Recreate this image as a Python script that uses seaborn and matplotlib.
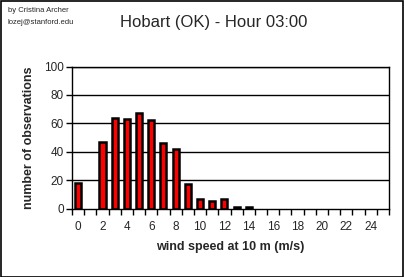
import matplotlib
matplotlib.use("Agg")
import matplotlib.pyplot as plt
import seaborn as sns
import pandas as pd
import numpy as np
from matplotlib.patches import Rectangle

speeds = list(range(26))
counts = [18, 0, 47, 64, 63, 67, 62, 46, 42, 17, 7, 5, 7, 1, 1,
          0, 0, 0, 0, 0, 0, 0, 0, 0, 0, 0]
xtick_labels = [str(s) for s in range(0, 25, 2)]
yticks = [0, 20, 40, 60, 80, 100]

sns.set_theme(style="white")
plt.rcParams['font.family'] = ['Liberation Sans', 'DejaVu Sans']

df = pd.DataFrame({"speed": speeds, "count": counts})

fig = plt.figure(figsize=(4.04, 2.77), dpi=100)
fig.patch.set_facecolor("white")
ax = fig.add_axes([72/404, 1-208.5/277, (389-72)/404, (208.5-66.5)/277])

sns.barplot(data=df, x="speed", y="count", ax=ax, color="#ff0000",
            saturation=1, width=0.5, edgecolor="black", linewidth=1.8,
            order=speeds)
for p in ax.patches:
    if p.get_height() == 0:
        p.set_visible(False)

ax.set_xlim(-0.5, 25.5)
ax.set_ylim(0, 100)
ax.set_yticks(yticks)
ax.set_yticklabels([str(v) for v in yticks], fontsize=8.5)
for v in yticks[1:]:
    ax.axhline(v, color="black", linewidth=1.0, zorder=0.5)

ax.set_xticks(range(0, 25, 2))
ax.set_xticklabels(xtick_labels, fontsize=8.5)
ax.tick_params(axis="x", which="major", length=0, pad=9)
ax.set_xticks(np.arange(-0.5, 26, 1), minor=True)
ax.tick_params(axis="x", which="minor", length=4, width=1, color="black", direction="out", bottom=True)
ax.tick_params(axis="y", length=4, width=1, color="black", direction="out", left=True, pad=2)

for s in ax.spines.values():
    s.set_color("black")
    s.set_linewidth(1.0)
    s.set_visible(True)

ax.set_xlabel("wind speed at 10 m (m/s)", fontsize=9, fontweight="bold", labelpad=6)
ax.set_ylabel("number of observations", fontsize=9, fontweight="bold", labelpad=6)

fig.text(214/404, 1-22/277, "Hobart (OK) - Hour 03:00", fontsize=12, ha="center", va="center")
fig.text(8/404, 1-10/277, "by Cristina Archer", fontsize=5.5, ha="left", va="center")
fig.text(8/404, 1-22/277, "lozej@stanford.edu", fontsize=5.5, ha="left", va="center")

fig.add_artist(Rectangle((0.5/404, 0.5/277), 1-1.5/404, 1-1.5/277, transform=fig.transFigure,
                         fill=False, edgecolor="black", linewidth=1.2))

fig.savefig("out.png", dpi=100)
